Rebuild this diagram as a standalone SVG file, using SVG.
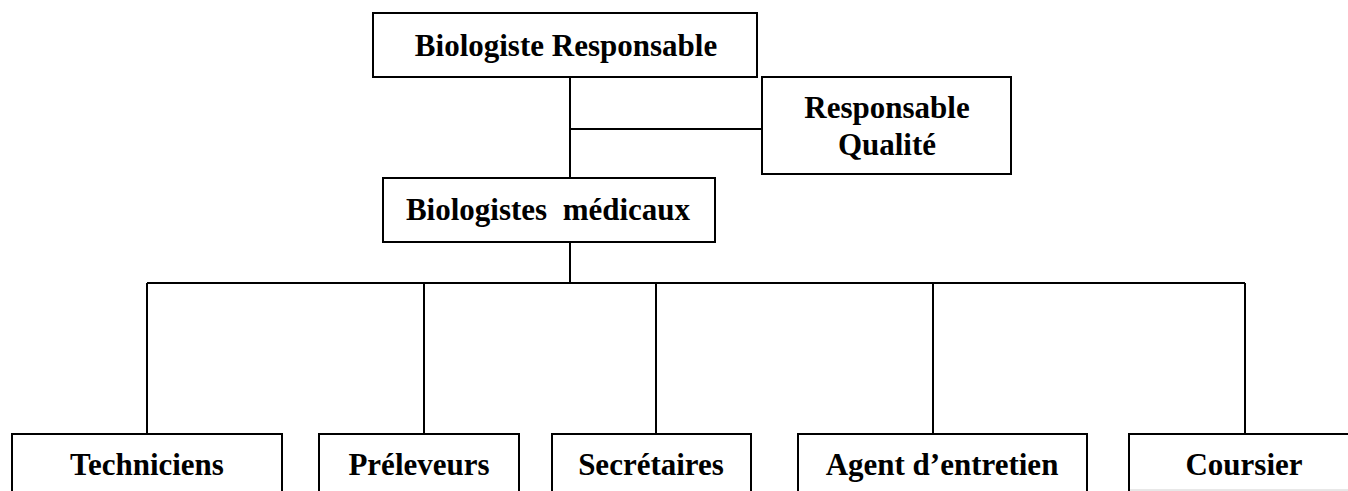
<svg xmlns="http://www.w3.org/2000/svg" width="1348" height="491" viewBox="0 0 1348 491">
  <style>
    .box { fill: #ffffff; stroke: #000000; stroke-width: 2; }
    .lbl { font-family: "Liberation Serif", "Times New Roman", serif; font-weight: bold; font-size: 31px; fill: #000000; text-anchor: middle; }
    .wire { fill: none; stroke: #000000; stroke-width: 2; }
  </style>
  <rect x="0" y="0" width="1348" height="491" fill="#ffffff"/>

  <!-- connectors -->
  <g id="connectors">
    <path class="wire" d="M570 77 V178"/>
    <path class="wire" d="M570 129 H762"/>
    <path class="wire" d="M570 242 V283"/>
    <path class="wire" d="M147 283 H1245"/>
    <path class="wire" d="M147 283 V434"/>
    <path class="wire" d="M424 283 V434"/>
    <path class="wire" d="M656 283 V434"/>
    <path class="wire" d="M933 283 V434"/>
    <path class="wire" d="M1245 283 V434"/>
  </g>

  <g id="biologiste-responsable">
    <rect class="box" x="373" y="13" width="384" height="64"/>
    <text class="lbl" x="566" y="56">Biologiste Responsable</text>
  </g>

  <g id="responsable-qualite">
    <rect class="box" x="762" y="77" width="249" height="97"/>
    <text class="lbl" x="887" y="118">Responsable</text>
    <text class="lbl" x="887" y="155">Qualité</text>
  </g>

  <g id="biologistes-medicaux">
    <rect class="box" x="383" y="178" width="332" height="64"/>
    <text class="lbl" x="548" y="220" xml:space="preserve">Biologistes  médicaux</text>
  </g>

  <g id="techniciens">
    <rect class="box" x="12" y="434" width="270" height="80"/>
    <text class="lbl" x="147" y="475">Techniciens</text>
  </g>

  <g id="preleveurs">
    <rect class="box" x="319" y="434" width="200" height="80"/>
    <text class="lbl" x="419" y="475">Préleveurs</text>
  </g>

  <g id="secretaires">
    <rect class="box" x="552" y="434" width="199" height="80"/>
    <text class="lbl" x="651" y="475">Secrétaires</text>
  </g>

  <g id="agent-entretien">
    <rect class="box" x="798" y="434" width="289" height="80"/>
    <text class="lbl" x="942" y="475">Agent d’entretien</text>
  </g>

  <g id="coursier">
    <rect class="box" x="1129" y="434" width="240" height="80"/>
    <line x1="1130" y1="490" x2="1348" y2="490" stroke="#d0d0d0" stroke-width="1"/>
    <text class="lbl" x="1244" y="475">Coursier</text>
  </g>
</svg>
